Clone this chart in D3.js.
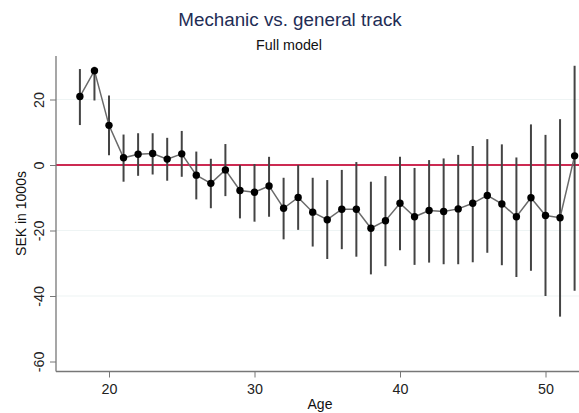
<!DOCTYPE html>
<html>
<head>
<meta charset="utf-8">
<script src="https://cdn.jsdelivr.net/npm/d3@7"></script>
<style>
  html, body { margin: 0; padding: 0; background: #fff; }
  svg { display: block; font-family: "Liberation Sans", Arial, sans-serif; }
</style>
</head>
<body>
<svg id="chart" width="579" height="413"></svg>
<script>
// Age-specific earnings difference, mechanic vs. general track (SEK 1000s)
const ages = [18,19,20,21,22,23,24,25,26,27,28,29,30,31,32,33,34,35,36,37,38,39,40,41,42,43,44,45,46,47,48,49,50,51,52];
const estimates = [20.9,28.8,12.1,2.2,3.3,3.5,1.8,3.4,-3.1,-5.6,-1.5,-7.8,-8.3,-6.4,-13.2,-9.9,-14.4,-16.7,-13.5,-13.5,-19.3,-17.0,-11.7,-15.8,-13.9,-14.2,-13.4,-11.7,-9.3,-11.9,-15.8,-10.0,-15.4,-16.1,2.8];
const ciUpper = [29.3,30.0,21.2,9.3,9.7,9.7,8.3,10.4,4.1,1.9,6.4,0.0,0.3,2.5,-3.9,0.0,-3.9,-4.6,-1.5,0.9,-5.1,-3.4,2.5,-0.9,1.5,2.0,3.1,5.8,7.9,6.3,2.3,12.4,9.2,14.0,30.3];
const ciLower = [12.2,19.7,3.0,-5.1,-3.3,-2.9,-4.8,-3.6,-10.5,-13.2,-9.5,-16.3,-17.3,-15.8,-22.7,-19.8,-24.9,-28.7,-25.7,-28.0,-33.4,-30.9,-26.0,-30.5,-29.8,-30.3,-30.3,-29.7,-26.8,-30.6,-34.2,-32.3,-40.0,-46.3,-38.4];
const xTicks = [20, 30, 40, 50];
const yTicks = [20, 0, -20, -40, -60];
const gridValues = [20, -20, -40];

const data = ages.map((a, i) => ({ age: a, est: estimates[i], lo: ciLower[i], hi: ciUpper[i] }));

const svg = d3.select("#chart");

const x = d3.scaleLinear().domain([20, 50]).range([109, 545.5]);
const y = d3.scaleLinear().domain([0, -60]).range([165, 361.5]);
const plotLeft = 56, plotBottom = 371.5, plotTop = 56, plotRight = 579;
const plainNumber = d => String(d);   // hyphen-minus for negatives

// Titles
svg.append("text")
  .attr("x", 290).attr("y", 26)
  .attr("text-anchor", "middle")
  .attr("font-size", 18.8)
  .attr("fill", "#1f2d55")
  .text("Mechanic vs. general track");
svg.append("text")
  .attr("x", 289).attr("y", 50)
  .attr("text-anchor", "middle")
  .attr("font-size", 14.3)
  .attr("fill", "#111")
  .text("Full model");

// Gridlines
svg.append("g").selectAll("line").data(gridValues).join("line")
  .attr("x1", plotLeft).attr("x2", plotRight)
  .attr("y1", d => y(d)).attr("y2", d => y(d))
  .attr("stroke", "#eef4f4").attr("stroke-width", 1.2);

// Zero reference line
svg.append("line")
  .attr("x1", plotLeft).attr("x2", plotRight)
  .attr("y1", y(0)).attr("y2", y(0))
  .attr("stroke", "#cc2a52").attr("stroke-width", 2);

// Confidence intervals
svg.append("g").selectAll("line").data(data).join("line")
  .attr("x1", d => x(d.age)).attr("x2", d => x(d.age))
  .attr("y1", d => y(d.hi)).attr("y2", d => y(d.lo))
  .attr("stroke", "#444").attr("stroke-width", 2);

// Connecting line of point estimates
svg.append("path")
  .datum(data)
  .attr("fill", "none")
  .attr("stroke", "#6a6a6a")
  .attr("stroke-width", 1.5)
  .attr("d", d3.line().x(d => x(d.age)).y(d => y(d.est)));

// Point estimates
svg.append("g").selectAll("circle").data(data).join("circle")
  .attr("cx", d => x(d.age)).attr("cy", d => y(d.est))
  .attr("r", 3.7)
  .attr("fill", "#000");

// Y axis (labels rotated)
const yAxis = svg.append("g").attr("transform", `translate(${plotLeft},0)`)
  .call(d3.axisLeft(y).tickValues(yTicks).tickFormat(plainNumber).tickSize(6).tickPadding(4).tickSizeOuter(0));
yAxis.select(".domain").attr("d", `M0,${plotTop}V${plotBottom}`)
  .attr("stroke", "#777").attr("stroke-width", 1.3);
yAxis.selectAll(".tick line").attr("stroke", "#777");
yAxis.selectAll(".tick text")
  .attr("font-size", 14.3)
  .attr("fill", "#222")
  .attr("font-family", "Liberation Sans, Arial, sans-serif")
  .attr("x", 0).attr("y", 0).attr("dy", null)
  .attr("text-anchor", "middle")
  .attr("transform", "translate(-12,0) rotate(-90)");

// X axis
const xAxis = svg.append("g").attr("transform", `translate(0,${plotBottom})`)
  .call(d3.axisBottom(x).tickValues(xTicks).tickFormat(plainNumber).tickSize(6).tickPadding(6).tickSizeOuter(0));
xAxis.select(".domain").attr("d", `M${plotLeft},0H${plotRight}`)
  .attr("stroke", "#777").attr("stroke-width", 1.3);
xAxis.selectAll(".tick line").attr("stroke", "#777");
xAxis.selectAll(".tick text")
  .attr("font-size", 14.3)
  .attr("fill", "#222")
  .attr("font-family", "Liberation Sans, Arial, sans-serif");

// Axis titles
svg.append("text")
  .attr("x", 320).attr("y", 409)
  .attr("text-anchor", "middle")
  .attr("font-size", 14)
  .attr("fill", "#111")
  .text("Age");
svg.append("text")
  .attr("transform", "translate(26,213.5) rotate(-90)")
  .attr("text-anchor", "middle")
  .attr("font-size", 14)
  .attr("fill", "#111")
  .text("SEK in 1000s");
</script>
</body>
</html>
